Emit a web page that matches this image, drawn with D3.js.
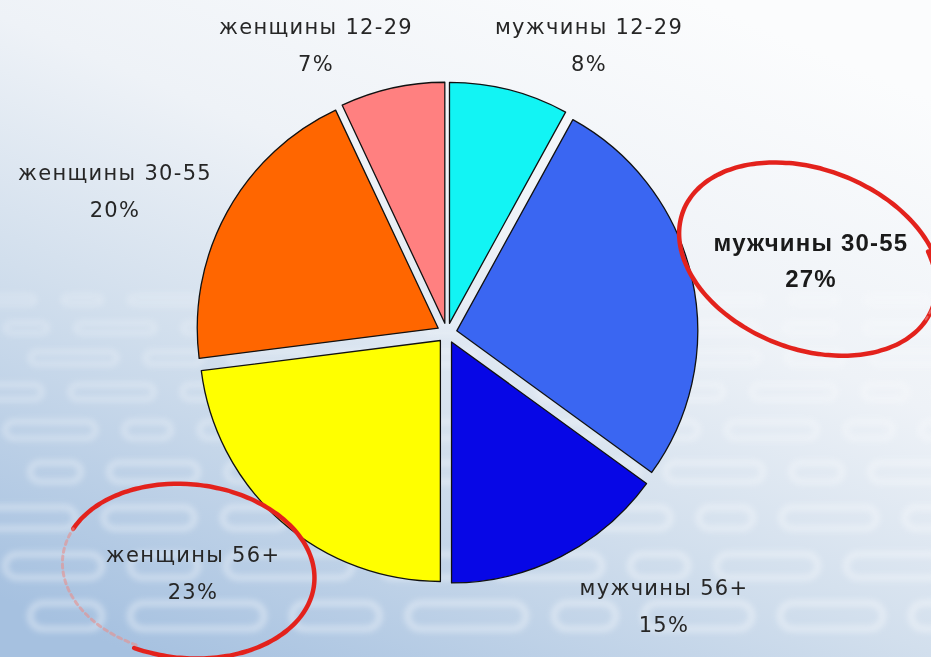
<!DOCTYPE html>
<html>
<head>
<meta charset="utf-8">
<script src="https://cdn.jsdelivr.net/npm/d3@7"></script>
<style>
  body { margin: 0; background: #fff; }
  svg { display: block; }
  .lbl { font-family: "DejaVu Sans", Verdana, sans-serif; font-size: 21px; fill: #262626; letter-spacing: 1.3px; }
  .lbl.bold { font-family: "Liberation Sans", Arial, sans-serif; font-weight: bold; font-size: 24px; fill: #1a1a1a; letter-spacing: 1.2px; }
</style>
</head>
<body>
<div id="chart"></div>
<script>
// data, clockwise from 12 o'clock
var categories = ["мужчины 12-29", "мужчины 30-55", "мужчины 56+", "женщины 56+", "женщины 30-55", "женщины 12-29"];
var values = [8, 27, 15, 23, 20, 7];
var pctLabels = ["8%", "27%", "15%", "23%", "20%", "7%"];
var colors = ["#12f4f4", "#3a66f2", "#0707e6", "#ffff00", "#ff6600", "#ff8080"];

var svgWidth = 931;
var svgHeight = 657;

var cx = 447, cy = 333, radius = 241, explode = 10;

// label anchors (name line centre), the percentage sits one line below
var labelPos = [[589, 27], [811, 242], [664, 588], [193, 555], [115, 173], [316, 27]];
var boldIdx = 1;

var svg = d3.select("#chart")
    .append("svg")
    .attr("width", svgWidth)
    .attr("height", svgHeight);

var defs = svg.append("defs");

var bg = defs.append("linearGradient")
    .attr("id", "bg")
    .attr("x1", 0.75).attr("y1", 0)
    .attr("x2", 0.15).attr("y2", 1);
bg.append("stop").attr("offset", 0).attr("stop-color", "#fbfcfd");
bg.append("stop").attr("offset", 0.35).attr("stop-color", "#eef2f7");
bg.append("stop").attr("offset", 0.62).attr("stop-color", "#d2dfed");
bg.append("stop").attr("offset", 1).attr("stop-color", "#a6c1e0");

defs.append("filter").attr("id", "blur")
    .attr("x", -0.2).attr("y", -0.2).attr("width", 1.4).attr("height", 1.4)
    .append("feGaussianBlur").attr("stdDeviation", 3);
defs.append("filter").attr("id", "soft")
    .append("feGaussianBlur").attr("stdDeviation", 0.6);

svg.append("rect")
    .attr("width", svgWidth)
    .attr("height", svgHeight)
    .attr("fill", "url(#bg)");

// faint perspective "digits" in the background
var deco = svg.append("g").attr("filter", "url(#blur)").attr("opacity", 0.45);
var rowY = [300, 328, 358, 392, 430, 472, 518, 566, 616];
var widthMul = [1, 0.7, 1.3, 0.85, 1.15, 0.6, 1.05];
rowY.forEach(function(y, i) {
    var h = 8 + i * 2.2;
    var w0 = 55 + i * 6;
    var x = -20 + (i % 3) * 25, j = i;
    while (x < svgWidth + 60) {
        var w = w0 * widthMul[j % widthMul.length];
        deco.append("rect")
            .attr("x", x).attr("y", y - h / 2)
            .attr("width", w).attr("height", h)
            .attr("rx", h / 2)
            .attr("fill", "none")
            .attr("stroke", "#ffffff")
            .attr("stroke-width", 2.5 + i * 0.35);
        x += w + 28;
        j += 1;
    }
});

// pie
var pie = d3.pie().sort(null).value(function(d) { return d; });
var arc = d3.arc().innerRadius(0).outerRadius(radius);
var arcs = pie(values);

var pieGroup = svg.append("g")
    .attr("transform", `translate(${cx}, ${cy})`);

pieGroup.selectAll("path")
    .data(arcs)
    .enter()
    .append("path")
    .attr("d", arc)
    .attr("transform", function(d) {
        var mid = (d.startAngle + d.endAngle) / 2;
        return `translate(${explode * Math.sin(mid)}, ${-explode * Math.cos(mid)})`;
    })
    .attr("fill", function(d, i) { return colors[i]; })
    .attr("stroke", "#111")
    .attr("stroke-width", 1.3)
    .attr("stroke-linejoin", "round");

// hand drawn red ellipses
function handEllipse(ex, ey, rx, ry, rot, a0, a1, grow) {
    var pts = [];
    var r = rot * Math.PI / 180;
    for (var a = a0; a <= a1; a += 3) {
        var t = a * Math.PI / 180;
        var k = 1 + grow * (a - a0) / (a1 - a0);
        var px = rx * k * Math.cos(t), py = ry * k * Math.sin(t);
        pts.push([ex + px * Math.cos(r) - py * Math.sin(r), ey + px * Math.sin(r) + py * Math.cos(r)]);
    }
    return d3.line().curve(d3.curveBasis)(pts);
}

var marks = svg.append("g").attr("filter", "url(#soft)")
    .attr("fill", "none").attr("stroke-linecap", "round");

marks.append("path")
    .attr("d", handEllipse(809, 260, 132, 88, 21, -35, 340, 0.04))
    .attr("stroke", "#e3241f").attr("stroke-width", 4.5);
marks.append("path")
    .attr("d", handEllipse(809, 260, 132, 88, 21, -20, 12, 0))
    .attr("stroke", "#e8908c").attr("stroke-width", 2).attr("stroke-dasharray", "3 4").attr("opacity", 0.6);

marks.append("path")
    .attr("d", handEllipse(187, 570, 125, 85, 6, 200, 470, 0.04))
    .attr("stroke", "#e3241f").attr("stroke-width", 4.5);
marks.append("path")
    .attr("d", handEllipse(187, 570, 125, 85, 6, 110, 200, 0))
    .attr("stroke", "#e8908c").attr("stroke-width", 3).attr("stroke-dasharray", "4 4").attr("opacity", 0.6);

// labels
var labels = svg.append("g");
categories.forEach(function(name, i) {
    var p = labelPos[i];
    var cls = i === boldIdx ? "lbl bold" : "lbl";
    labels.append("text")
        .attr("class", cls)
        .attr("x", p[0]).attr("y", p[1])
        .attr("text-anchor", "middle")
        .attr("dominant-baseline", "central")
        .text(name);
    labels.append("text")
        .attr("class", cls)
        .attr("x", p[0]).attr("y", p[1] + 36.5)
        .attr("text-anchor", "middle")
        .attr("dominant-baseline", "central")
        .text(pctLabels[i]);
});
</script>
</body>
</html>
